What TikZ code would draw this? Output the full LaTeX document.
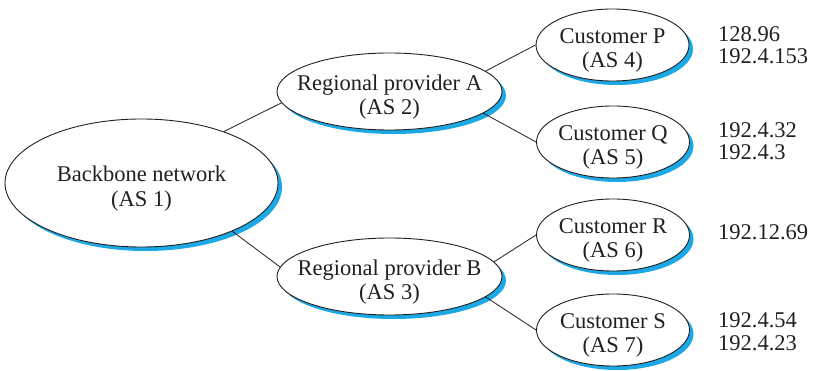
\documentclass[tikz,border=0pt]{standalone}
\usepackage{fontspec}
\setmainfont{Liberation Serif}
\usetikzlibrary{shapes.geometric,shadows,calc}
\definecolor{shadowblue}{RGB}{28,168,228}
\definecolor{ink}{RGB}{35,31,32}
\tikzset{
  asnode/.style={ellipse, draw=ink, line width=0.9pt, fill=white, inner sep=0pt,
    drop shadow={shadow xshift=4pt, shadow yshift=-4pt, fill=shadowblue, opacity=1}},
  bigas/.style={asnode, minimum width=273pt, minimum height=128pt},
  midas/.style={asnode, minimum width=225pt, minimum height=77pt},
  smallas/.style={asnode, minimum width=153pt, minimum height=72pt},
  astext/.style={font=\fontsize{22.5}{24.5}\selectfont, text=ink, align=center, inner sep=0pt},
  iptext/.style={font=\fontsize{22.5}{24}\selectfont, text=ink, anchor=base west, inner sep=0pt},
  link/.style={draw=ink, line width=0.8pt}
}
\begin{document}
\begin{tikzpicture}[x=1pt,y=-1pt]
\useasboundingbox (0,0) rectangle (814,371);
% ellipses
\node[bigas] (bb) at (141.5,183) {};
\node[midas] (ra) at (389.5,91.5) {};
\node[midas] (rb) at (389.5,276.5) {};
\node[smallas] (cp) at (612.5,45) {};
\node[smallas] (cq) at (613,142) {};
\node[smallas] (cr) at (613,235) {};
\node[smallas] (cs) at (613,330) {};
% labels
\node[astext] (bbt) at ($(bb)+(0,5.5)$) {Backbone network\\(AS 1)};
\node[astext] (rat) at ($(ra)+(0,5.5)$) {Regional provider A\\(AS 2)};
\node[astext] (rbt) at ($(rb)+(0,5.5)$) {Regional provider B\\(AS 3)};
\node[astext] (cpt) at ($(cp)+(0,5.5)$) {Customer P\\(AS 4)};
\node[astext] (cqt) at ($(cq)+(0,5.5)$) {Customer Q\\(AS 5)};
\node[astext] (crt) at ($(cr)+(0,5.5)$) {Customer R\\(AS 6)};
\node[astext] (cst) at ($(cs)+(0,5.5)$) {Customer S\\(AS 7)};
% links
\draw[link] (bb.32) -- (ra.186);
\draw[link] (bb.-28) -- (rb.175);
\draw[link] (ra.12) -- (cp.west);
\draw[link] (ra.-13) -- (cq.west);
\draw[link] (rb.8) -- (cr.west);
\draw[link] (rb.-12) -- (cs.west);
% address prefixes
\node[iptext] (ipa1) at (718,42) {128.96};
\node[iptext] (ipa2) at (718,64) {192.4.153};
\node[iptext] (ipb1) at (718,138) {192.4.32};
\node[iptext] (ipb2) at (718,160) {192.4.3};
\node[iptext] (ipc1) at (718,240) {192.12.69};
\node[iptext] (ipd1) at (718,328) {192.4.54};
\node[iptext] (ipd2) at (718,351) {192.4.23};
\end{tikzpicture}
\end{document}
